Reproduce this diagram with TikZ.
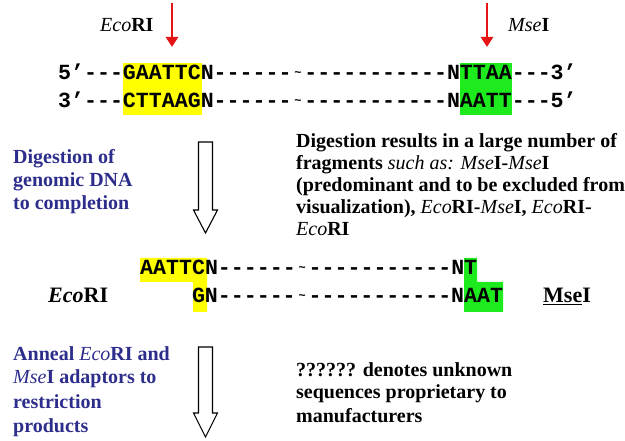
\documentclass[tikz,border=0pt]{standalone}
\usepackage{fontspec}
\setmainfont{Liberation Serif}
\setmonofont{Liberation Mono}
\usetikzlibrary{arrows.meta}
\definecolor{dnablue}{RGB}{45,45,140}
\definecolor{hlyellow}{RGB}{255,255,0}
\definecolor{hlgreen}{RGB}{30,235,30}
\definecolor{cutred}{RGB}{230,20,20}
\newcommand{\seqfont}{\fontsize{21.6}{21.6}\selectfont\ttfamily\bfseries}
\newcommand{\seqtilde}{\makebox[12.96pt]{\raisebox{3.5pt}{\fontsize{12}{12}\selectfont\textasciitilde}}}
\tikzset{
  txt/.style={anchor=base west, inner sep=0pt, font=\fontsize{20}{20}\selectfont\bfseries},
  bluetxt/.style={txt, text=dnablue},
  seqtxt/.style={anchor=base west, inner sep=0pt, font=\seqfont},
  redarrow/.style={draw=cutred, line width=2.6pt, -{Triangle[width=12pt,length=10pt]}},
  hollowarrow/.style={draw=black, line width=1.1pt, fill=white, line join=miter},
}
\begin{document}
\begin{tikzpicture}[x=1pt,y=-1pt]
\useasboundingbox (0,0) rectangle (625,441);
% highlights
\fill[hlyellow] (122.8,63) rectangle (202,115);
\fill[hlgreen] (459.8,63) rectangle (511.6,115);
\fill[hlyellow] (140,258) -- (207,258) -- (207,312) -- (193,312) -- (193,282) -- (140,282) -- cycle;
\fill[hlgreen] (464,258) -- (477,258) -- (477,282) -- (503,282) -- (503,312) -- (464,312) -- cycle;
% enzyme labels and cut arrows
\node[txt] (eco1) at (100,32) {\textit{\mdseries Eco}RI};
\node[txt] (mse1) at (508,32) {\textit{\mdseries Mse}I};
\coordinate (c1s) at (172,3);
\coordinate (c1e) at (172,47);
\coordinate (c2s) at (487,3);
\coordinate (c2e) at (487,47);
\draw[redarrow] (c1s) -- (c1e);
\draw[redarrow] (c2s) -- (c2e);
% sequences
\node[seqtxt] (s1) at (58,80) {5’---GAATTCN------\seqtilde-----------NTTAA---3’};
\node[seqtxt] (s2) at (58,108) {3’---CTTAAGN------\seqtilde-----------NAATT---5’};
\node[seqtxt] (s3) at (140,275) {AATTCN------\seqtilde-----------NT};
\node[seqtxt] (s4) at (191.8,303) {GN------\seqtilde-----------NAAT};
\node[txt, font=\fontsize{22}{22}\selectfont\bfseries] (eco2) at (48,303) {\textit{Eco}RI};
\node[txt, font=\fontsize{22}{22}\selectfont\bfseries] (mse2) at (543,303) {\underline{Mse}I};
% hollow arrows
\draw[hollowarrow] (198.5,142) -- (212.5,142) -- (212.5,210) -- (217.5,210) -- (205.5,233) -- (193.5,210) -- (198.5,210) -- cycle;
\draw[hollowarrow] (198.5,347) -- (212.5,347) -- (212.5,413) -- (217.5,413) -- (205.5,437) -- (193.5,413) -- (198.5,413) -- cycle;
% left blue notes
\node[bluetxt] (b1) at (13,164) {Digestion of};
\node[bluetxt] (b2) at (13,187) {genomic DNA};
\node[bluetxt] (b3) at (13,210) {to completion};
\node[bluetxt] (b4) at (13,361) {Anneal \textit{\mdseries Eco}RI and};
\node[bluetxt] (b5) at (13,384) {\textit{\mdseries Mse}I adaptors to};
\node[bluetxt] (b6) at (13,408) {restriction};
\node[bluetxt] (b7) at (13,432) {products};
% right notes
\node[txt] (r1) at (296,148) {Digestion results in a large number of};
\node[txt] (r2) at (296,170) {fragments \textit{\mdseries such as:} \textit{\mdseries Mse}I-\textit{\mdseries Mse}I};
\node[txt] (r3) at (296,192) {(predominant and to be excluded from};
\node[txt] (r4) at (296,214) {visualization), \textit{\mdseries Eco}RI-\textit{\mdseries Mse}I, \textit{\mdseries Eco}RI-};
\node[txt] (r5) at (296,236) {\textit{\mdseries Eco}RI};
\node[txt] (r6) at (296,377) {?????? denotes unknown};
\node[txt] (r7) at (296,399) {sequences proprietary to};
\node[txt] (r8) at (296,423) {manufacturers};
\end{tikzpicture}
\end{document}
